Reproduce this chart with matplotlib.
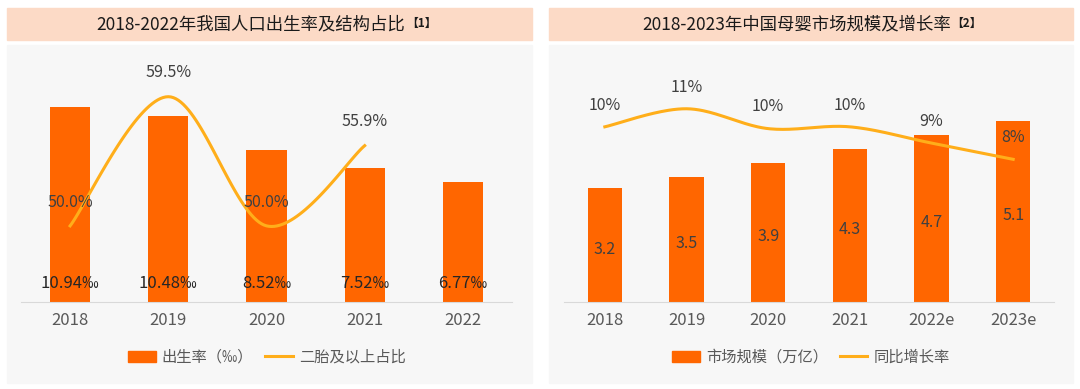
import numpy as np
import matplotlib.pyplot as plt
from matplotlib.patches import Rectangle, Patch
from matplotlib.lines import Line2D

plt.rcParams['font.family'] = ['Noto Sans CJK SC', 'DejaVu Sans']

# left chart data
years_l = ['2018', '2019', '2020', '2021', '2022']
birth_rate = [10.94, 10.48, 8.52, 7.52, 6.77]
second_child = [50.0, 59.5, 50.0, 55.9]  # 2018-2021

# right chart data
years_r = ['2018', '2019', '2020', '2021', '2022e', '2023e']
market = [3.2, 3.5, 3.9, 4.3, 4.7, 5.1]
growth = [10.0, 11.0, 9.9, 10.0, 9.1, 8.2]

BAR = '#FF6600'
LINE = '#FFAE1A'
TXT = '#404040'
W, H = 1080, 389


def smooth(x, y, n=40):
    # catmull-rom curve through the points, like excel's smoothed line
    pts = np.column_stack([x, y]).astype(float)
    p = np.vstack([pts[0], pts, pts[-1]])
    t = np.linspace(0, 1, n)[:, None]
    segs = []
    for i in range(1, len(p) - 2):
        p0, p1, p2, p3 = p[i - 1], p[i], p[i + 1], p[i + 2]
        segs.append(0.5 * (2 * p1 + (-p0 + p2) * t
                           + (2 * p0 - 5 * p1 + 4 * p2 - p3) * t ** 2
                           + (-p0 + 3 * p1 - 3 * p2 + p3) * t ** 3))
    s = np.vstack(segs)
    return s[:, 0], s[:, 1]


def fx(px):
    return px / W


def fy(py):
    return (H - py) / H


fig = plt.figure(figsize=(W / 100, H / 100), dpi=100)
fig.patch.set_facecolor('white')

# panel backgrounds and title bars
for x0, x1 in [(7, 532), (549, 1073)]:
    fig.patches.append(Rectangle((fx(x0), fy(383)), fx(x1 - x0), (383 - 45) / H,
                                 transform=fig.transFigure, color='#F7F7F7', zorder=-5))
    fig.patches.append(Rectangle((fx(x0), fy(40)), fx(x1 - x0), 32 / H,
                                 transform=fig.transFigure, color='#FCDAC6', zorder=-5))

fig.text(fx(251), fy(24), '2018-2022年我国人口出生率及结构占比', ha='center', va='center',
         fontsize=12.5, color='#1a1a1a')
fig.text(fx(406), fy(23), '【1】', ha='left', va='center', fontsize=8.5,
         color='#1a1a1a', fontweight='bold')
fig.text(fx(797), fy(24), '2018-2023年中国母婴市场规模及增长率', ha='center', va='center',
         fontsize=12.5, color='#1a1a1a')
fig.text(fx(951), fy(23), '【2】', ha='left', va='center', fontsize=8.5,
         color='#1a1a1a', fontweight='bold')


def style(ax):
    ax.set_facecolor('none')
    for s in ['top', 'right', 'left']:
        ax.spines[s].set_visible(False)
    ax.spines['bottom'].set_color('#D9D9D9')
    ax.tick_params(axis='x', length=0, labelsize=12, labelcolor='#595959', pad=7)
    ax.set_yticks([])


# ---- left chart ----
ax1 = fig.add_axes([fx(21), fy(302), fx(491), 242 / H])
x1 = np.arange(len(years_l))
ax1.bar(x1, birth_rate, width=0.41, color=BAR, zorder=2)
ax1.set_xlim(-0.5, 4.5)
ax1.set_ylim(0, 13.6)
ax1.set_xticks(x1)
ax1.set_xticklabels(years_l)
style(ax1)
for xi, v in zip(x1, birth_rate):
    ax1.text(xi, 1.05, f'{v:.2f}‰', ha='center', va='center', fontsize=12, color='#262626', zorder=4)

ax1b = ax1.twinx()
ax1b.set_ylim(44.4, 62.2)
ax1b.axis('off')
xl = np.arange(len(second_child))
sx, sy = smooth(xl, second_child)
ax1b.plot(sx, sy, color=LINE, lw=2.2, zorder=3)
for xi, v in zip(xl, second_child):
    ax1b.text(xi, v + 1.75, f'{v:.1f}%', ha='center', va='center', fontsize=11.5, color=TXT)

ax1.legend(handles=[Patch(color=BAR, label='出生率（‰）'),
                    Line2D([], [], color=LINE, lw=2.2, label='二胎及以上占比')],
           loc='center', bbox_to_anchor=(fx(267), fy(357)), bbox_transform=fig.transFigure,
           ncol=2, frameon=False, fontsize=11, labelcolor='#595959',
           handlelength=1.8, handletextpad=0.4, columnspacing=0.8)

# ---- right chart ----
ax2 = fig.add_axes([fx(564), fy(302), fx(490), 242 / H])
x2 = np.arange(len(years_r))
ax2.bar(x2, market, width=0.42, color=BAR, zorder=2)
ax2.set_xlim(-0.5, 5.5)
ax2.set_ylim(0, 6.8)
ax2.set_xticks(x2)
ax2.set_xticklabels(years_r)
style(ax2)
for xi, v in zip(x2, market):
    ax2.text(xi, v / 2 - 0.12, f'{v:.1f}', ha='center', va='center', fontsize=11.5, color=TXT, zorder=4)

ax2b = ax2.twinx()
ax2b.set_ylim(0.3, 13.7)
ax2b.axis('off')
sx, sy = smooth(x2, growth)
ax2b.plot(sx, sy, color=LINE, lw=2.2, zorder=3)
for xi, v in zip(x2, growth):
    ax2b.text(xi, v + 1.2, f'{v:.0f}%', ha='center', va='center', fontsize=11.5, color=TXT)

ax2.legend(handles=[Patch(color=BAR, label='市场规模（万亿）'),
                    Line2D([], [], color=LINE, lw=2.2, label='同比增长率')],
           loc='center', bbox_to_anchor=(fx(811), fy(357)), bbox_transform=fig.transFigure,
           ncol=2, frameon=False, fontsize=11, labelcolor='#595959',
           handlelength=1.8, handletextpad=0.4, columnspacing=0.8)

plt.savefig('out.png', dpi=100)
